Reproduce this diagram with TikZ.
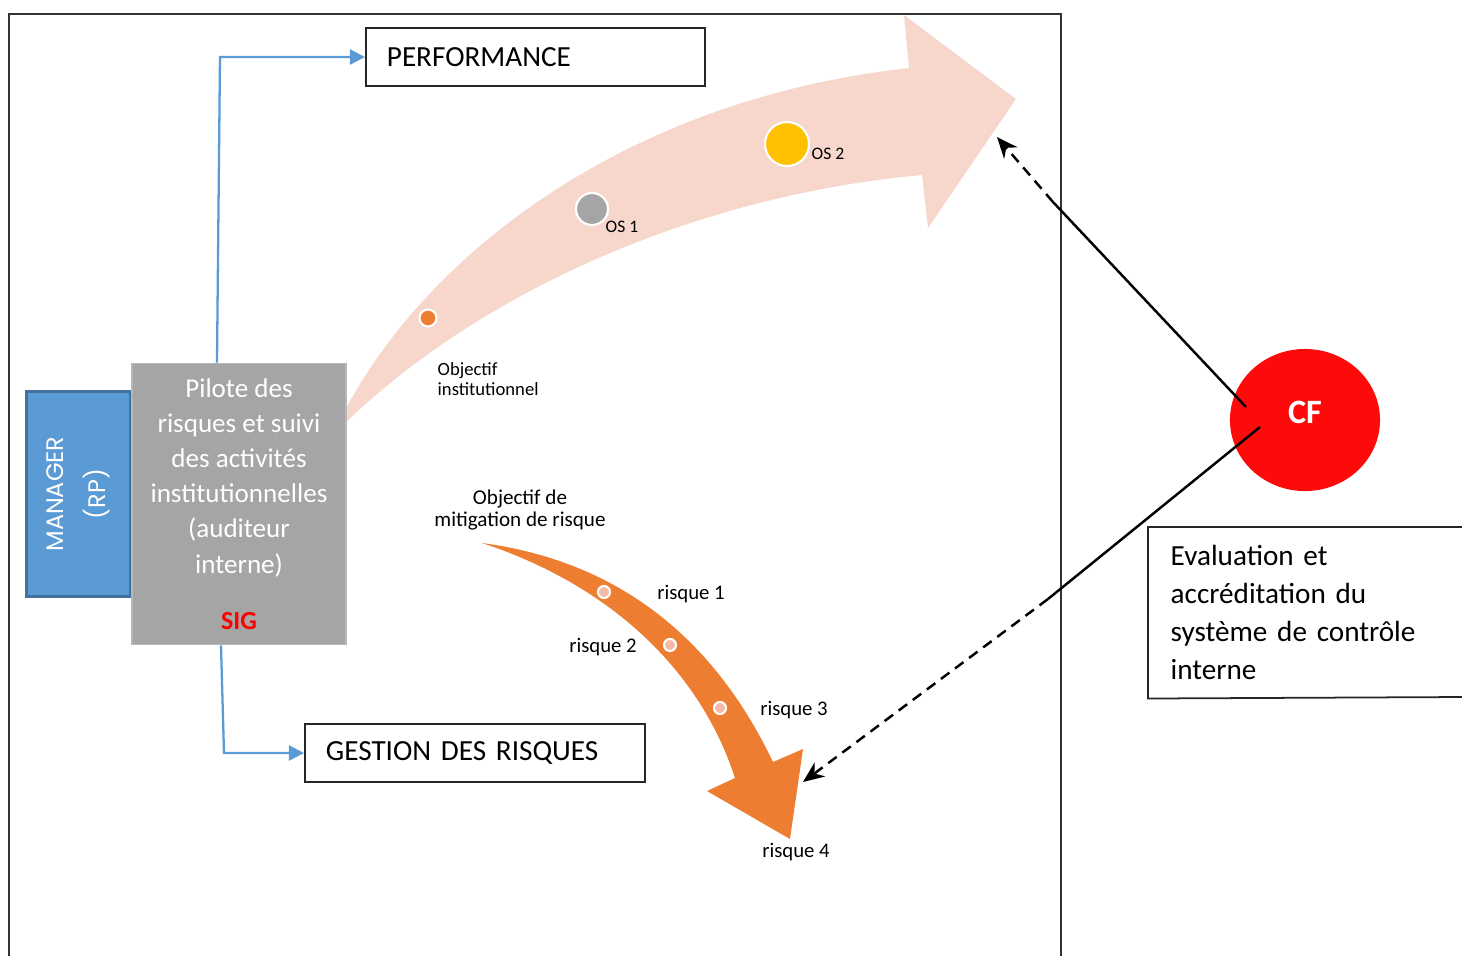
\documentclass[tikz,border=0pt]{standalone}
\usepackage{fontspec}
\setmainfont{Carlito}
\newfontfamily\gothique{Poppins}
\usepackage{tikz}
\usetikzlibrary{arrows.meta,shapes.geometric}

\definecolor{bleu}{HTML}{5B9BD5}
\definecolor{bleufonce}{HTML}{41719C}
\definecolor{gris}{HTML}{A5A5A5}
\definecolor{rose}{HTML}{F7D7CC}
\definecolor{orangeRP}{HTML}{ED7D31}
\definecolor{jaune}{HTML}{FFC000}
\definecolor{rougeCF}{HTML}{FE0A0A}
\definecolor{pointrisque}{HTML}{F4B9A7}

\begin{document}
\begin{tikzpicture}[
    x=0.01cm, y=-0.01cm,   % une unité = un pixel de la figure
    cadre/.style={draw=black!85, line width=0.5pt},
    boite/.style={cadre, minimum height=0.58cm, inner xsep=0.21cm, align=left, font=\fontsize{8.3}{10}\selectfont},
    lien/.style={bleu, line width=0.65pt, -{Triangle[length=4.3pt,width=4.3pt]}},
    controle/.style={black, line width=0.7pt},
    pointille/.style={controle, dash pattern=on 3pt off 2pt, -{Stealth[length=6pt,width=5pt]}},
    etiquette/.style={inner sep=0pt, font=\fontsize{5.9}{6.5}\selectfont},
    pastille/.style={circle, draw=white, line width=0.6pt, inner sep=0pt},
]

\useasboundingbox (0,0) rectangle (1462,956);

% --- Cadre de l'institution ---
\draw[line width=0.5pt, black!80] (9,956) -- (9,14) -- (1061,14) -- (1061,956);

% --- Grande flèche rose (objectifs) ---
\fill[rose] (340,420) .. controls (420,260) and (620,100) .. (909,68)
    -- (904,15) -- (1016,99) -- (928,228) -- (922,175)
    .. controls (700,195) and (480,290) .. (340,428) -- cycle;

\node[pastille, fill=orangeRP, minimum size=0.17cm] (obj) at (428,318) {};
\node[pastille, fill=gris, minimum size=0.32cm] (os1) at (592,209) {};
\node[pastille, fill=jaune, minimum size=0.44cm] (os2) at (787,144) {};
\node[etiquette, anchor=west, font=\fontsize{5}{6}\selectfont] (os1lab) at (605,227) {OS 1};
\node[etiquette, anchor=west, font=\fontsize{5}{6}\selectfont] (os2lab) at (811,154) {OS 2};
\node[etiquette, anchor=west, align=left, font=\fontsize{5.3}{5.7}\selectfont] (objinst) at (437,379) {Objectif\\institutionnel};

% --- Flèche orange (risques) ---
\fill[orangeRP] (482,543) .. controls (610,560) and (710,630) .. (773,762)
    -- (803,749) -- (790,839) -- (707,791) -- (735,778)
    .. controls (700,670) and (610,585) .. (482,543) -- cycle;

\node[pastille, fill=pointrisque, minimum size=0.12cm] (r1) at (604,592) {};
\node[pastille, fill=pointrisque, minimum size=0.12cm] (r2) at (670,645) {};
\node[pastille, fill=pointrisque, minimum size=0.12cm] (r3) at (720,708) {};
\node[etiquette] (r1lab) at (691,594) {risque 1};
\node[etiquette] (r2lab) at (603,647) {risque 2};
\node[etiquette] (r3lab) at (794,710) {risque 3};
\node[etiquette] (r4lab) at (796,852) {risque 4};
\node[etiquette, align=center, font=\fontsize{6.0}{6.5}\selectfont] (objmit) at (520,510) {Objectif de\\mitigation de risque};

% --- Acteurs ---
\node[fill=bleu, draw=bleufonce, line width=0.8pt, rotate=90, minimum width=2.05cm, minimum height=1.04cm,
      text=white, align=center, font=\gothique\fontsize{6.8}{12}\selectfont] (manager) at (78.5,494) {MANAGER\\(RP)};
\node[fill=gris, draw=gris!80!white, line width=0.5pt, minimum width=2.14cm, minimum height=2.81cm,
      text=white, align=center, font=\fontsize{7.7}{10}\selectfont] (pilote) at (239,504)
      {Pilote des\\risques et suivi\\des activités\\institutionnelles\\(auditeur\\interne)\\[6pt]{\fontsize{7.4}{10}\selectfont\bfseries\color{red}SIG}};

\node[boite, text width=2.97cm] (perf) at (535.5,57) {PERFORMANCE};
\node[boite, text width=2.98cm] (gestion) at (475,753) {GESTION DES RISQUES};

\coordinate (depart) at ([xshift=-0.22cm]pilote.north);
\coordinate (coude) at ([xshift=-0.19cm]pilote.north);
\draw[lien] (depart) -- (coude |- perf.west) -- (perf.west);
\coordinate (depart2) at ([xshift=-0.18cm]pilote.south);
\coordinate (coude2) at ([xshift=-0.15cm]pilote.south);
\draw[lien] (depart2) -- (coude2 |- gestion.west) -- (gestion.west);

% --- Contrôle financier ---
\node[ellipse, fill=rougeCF, minimum width=1.50cm, minimum height=1.42cm, text=white,
      font=\fontsize{9.7}{10}\selectfont\bfseries] (cf) at (1305,420) {\raisebox{4.5pt}{CF}};

\node[anchor=north west, inner xsep=0.22cm, inner ysep=0pt, minimum height=1.70cm, text width=3.0cm,
      align=left, font=\fontsize{8.3}{10.8}\selectfont] (eval) at (1148,527)
      {Evaluation et\\accréditation du\\système de contrôle\\interne};
\draw[cadre] (1462,527) -- (eval.north west) -- (eval.south west) -- (1462,697);

\coordinate (flecheperf) at (997,137);
\coordinate (flecherisque) at (803,782);
\coordinate (cassure1) at (1053,202);
\coordinate (cassure2) at (1048,599);
\draw[controle] ([shift={(-59,-13)}]cf.center) -- (cassure1);
\draw[pointille] (cassure1) -- (flecheperf);
\draw[controle] ([shift={(-45,7)}]cf.center) -- (cassure2);
\draw[pointille] (cassure2) -- (flecherisque);

\end{tikzpicture}
\end{document}
